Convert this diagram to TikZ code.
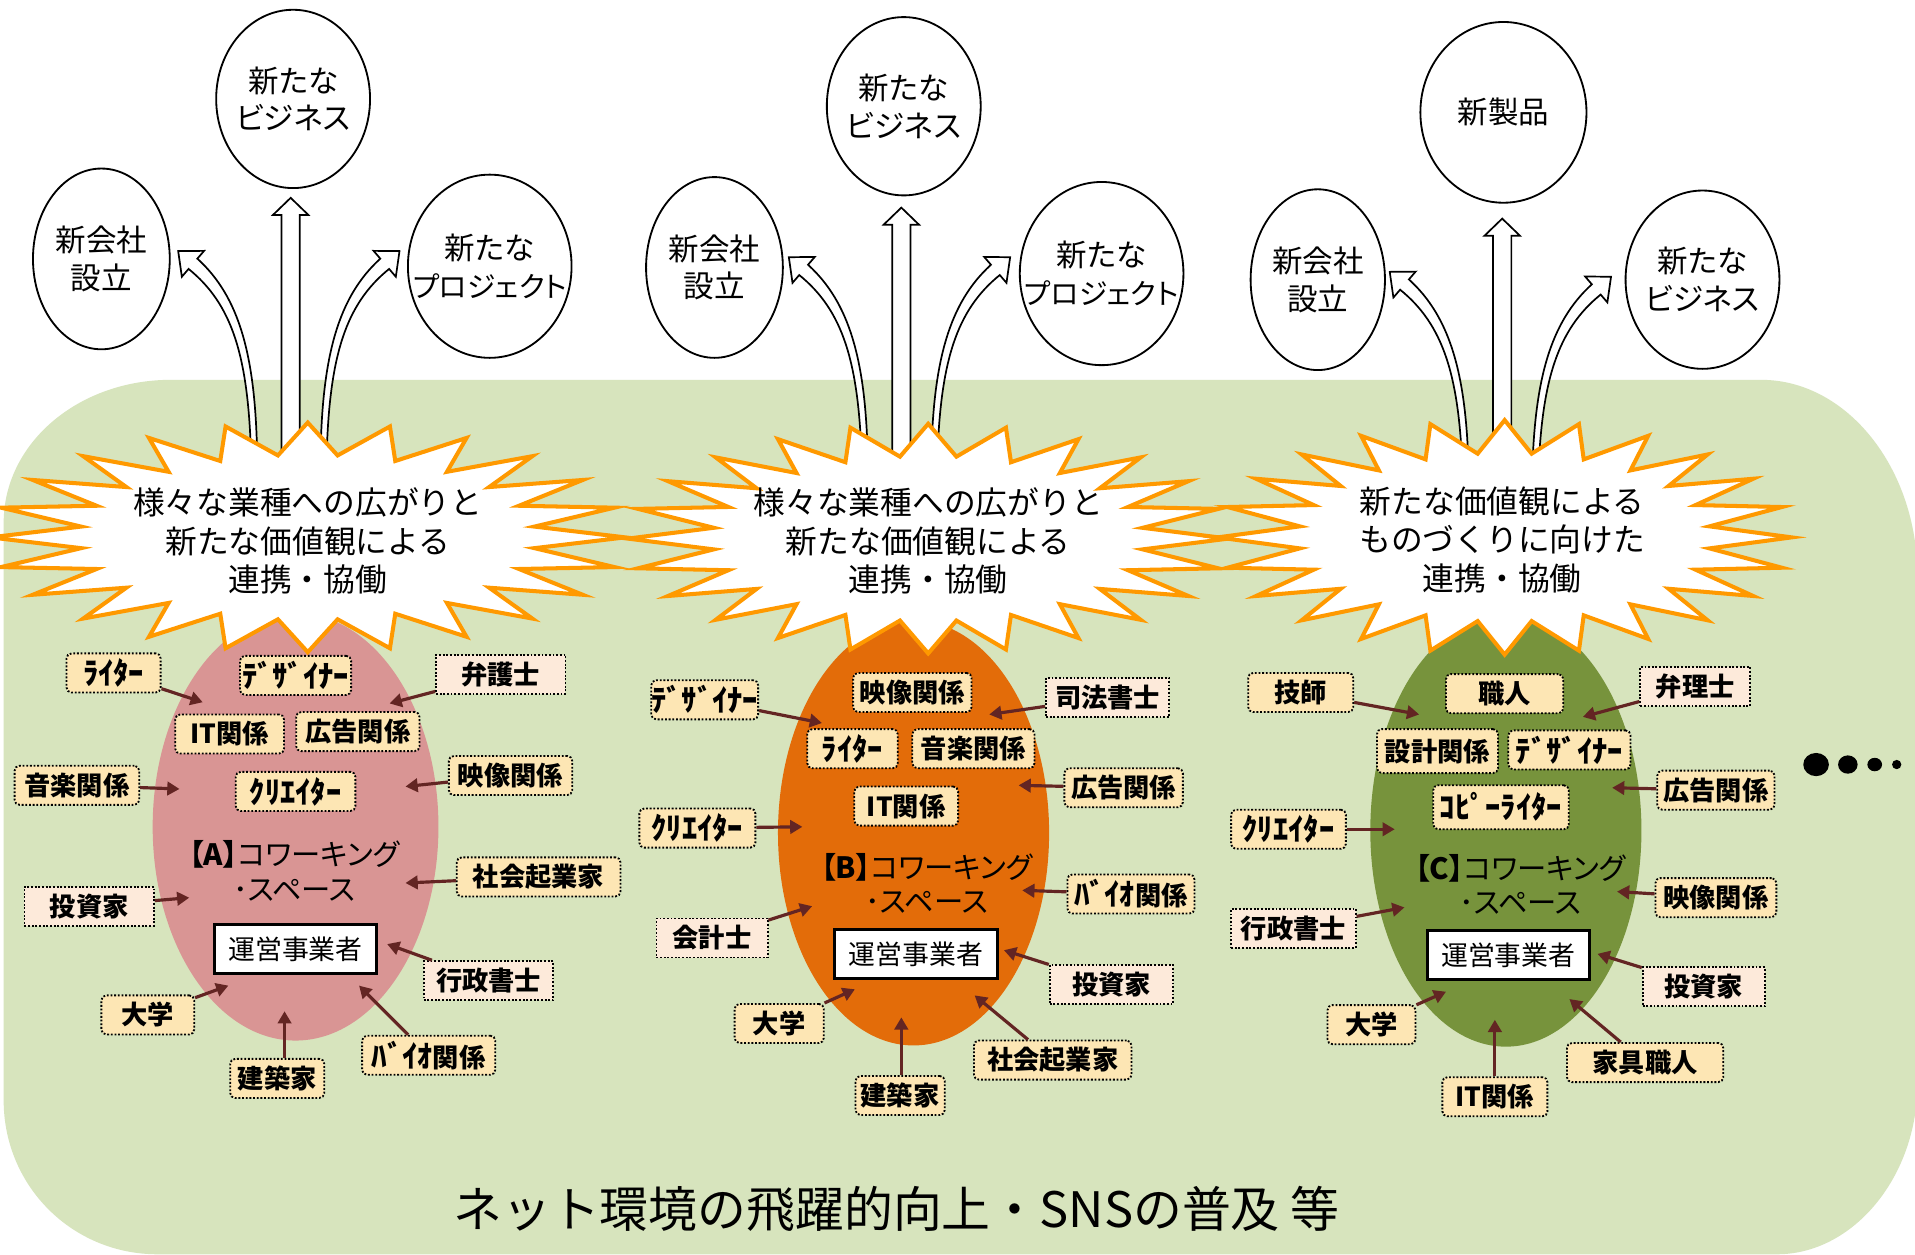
\documentclass[tikz,border=0pt]{standalone}
\usepackage{fontspec}
\usetikzlibrary{shapes.geometric,arrows.meta}
\newfontfamily\jp{Noto Sans CJK JP}
\newfontfamily\jpp[RawFeature=+palt]{Noto Sans CJK JP}
\definecolor{bggreen}{HTML}{D7E4BD}
\definecolor{pinkA}{HTML}{D99594}
\definecolor{orangeB}{HTML}{E36C09}
\definecolor{greenC}{HTML}{77933C}
\definecolor{cLabY}{HTML}{FDE6B4}
\definecolor{cLabP}{HTML}{FDEADA}
\definecolor{burstor}{HTML}{FF9900}
\definecolor{arrred}{HTML}{632523}
\newcommand\hollowup[3]{%
  \path[hollow] (#1-7.5,#3) -- (#1-7.5,#2+14) -- (#1-14.5,#2+14) -- (#1,#2) -- (#1+14.5,#2+14) -- (#1+7.5,#2+14) -- (#1+7.5,#3) -- cycle;}
\newcommand\hollowcurve[3]{%
  \begin{scope}[shift={(#1,#2)}, xscale=#3]
  \path[hollow] (2.5,40) -- (2.5,0) .. controls (1,-80) and (-12,-128) .. (-46.4,-159.2) -- (-40.9,-165.6) -- (-62.1,-165.4) -- (-59.1,-144.4) -- (-53.6,-150.8) .. controls (-18,-122) and (-5,-80) .. (-2.5,0) -- (-2.5,40) -- cycle;
  \end{scope}}
\newcommand\starburst[4]{%
  \path[burst] plot[samples at={0,1,...,47}, variable=\k] ({#1+(0.86+0.14*cos(180*\k))*#3*cos(90+7.5*\k)}, {#2-(0.86+0.14*cos(180*\k))*#4*sin(90+7.5*\k)}) -- cycle;}
\newcommand\pj{{\fontsize{23.5}{31}\selectfont プロジェクト}}
\begin{document}
\begin{tikzpicture}[x=1pt,y=-1pt,
  labbase/.style={draw=black, line width=1.5pt, dash pattern=on 1.5pt off 1.5pt, minimum height=32, inner sep=0pt, font=\jp\bfseries\fontsize{21.5}{24}\selectfont, text=black},
  laby/.style={labbase, fill=cLabY, rounded corners=4pt, minimum width=#1},
  labp/.style={labbase, fill=cLabP, minimum width=#1},
  hw/.style={font=\jp\bfseries\fontsize{25}{27}\selectfont},
  conn/.style={draw=arrred, line width=2.6pt, -{Triangle[length=10pt,width=11pt]}},
  topell/.style={draw=black, line width=1.5pt, ellipse, fill=white, inner sep=0pt},
  toptext/.style={align=center, inner sep=0pt, font=\jpp\fontsize{25}{31}\selectfont},
  burst/.style={fill=white, draw=burstor, line width=3.3pt, line join=miter},
  bursttext/.style={align=center, inner sep=0pt, font=\jp\fontsize{26}{31.5}\selectfont},
  hollow/.style={fill=white, draw=black, line width=1.4pt, line join=miter},
  opbox/.style={draw=black, line width=2.5pt, fill=white, minimum width=133, minimum height=40, inner sep=0pt, font=\jp\fontsize{22}{24}\selectfont},
  titletext/.style={align=center, inner sep=0pt, font=\jpp\fontsize{24}{28}\selectfont},
  innerell/.style={ellipse, inner sep=0pt}
]
\useasboundingbox (0,0) rectangle (1568,1027);
\fill[white] (0,0) rectangle (1568,1027);
% background
\fill[bggreen] (3,428) .. controls (3,363) and (64,311) .. (140,311) -- (1442,311) .. controls (1512,311) and (1570,383) .. (1570,472) -- (1570,887) .. controls (1570,964) and (1517,1027) .. (1455,1027) -- (129,1027) .. controls (59,1027) and (3,971) .. (3,901) -- cycle;

% inner ellipses
\node[innerell, fill=pinkA, minimum width=234, minimum height=350] (ea) at (242,677) {};
\node[innerell, fill=orangeB, minimum width=222, minimum height=348] (eb) at (748,682) {};
\node[innerell, fill=greenC, minimum width=222, minimum height=354] (ec) at (1233,680) {};

% hollow arrows
\hollowup{238}{162}{400}
\hollowcurve{208}{371}{1}
\hollowcurve{265}{371}{-1}
\hollowup{738}{170}{400}
\hollowcurve{708}{376}{1}
\hollowcurve{765}{376}{-1}
\hollowup{1230}{179}{410}
\hollowcurve{1200}{388}{1}
\hollowcurve{1257}{392}{-1}

% starbursts
\starburst{252}{440}{260}{94}
\starburst{760}{441}{246}{94}
\starburst{1232}{440}{235}{96}
\node[bursttext] (sa) at (252,443) {様々な業種への広がりと\\新たな価値観による\\連携・協働};
\node[bursttext] (sb) at (760,443) {様々な業種への広がりと\\新たな価値観による\\連携・協働};
\node[bursttext] (sc) at (1230,442) {新たな価値観による\\ものづくりに向けた\\連携・協働};

% top ellipses
\node[topell, minimum width=112, minimum height=148] (ta1) at (83,212) {};
\node[toptext] (tt1) at (ta1) {新会社\\設立};
\node[topell, minimum width=126, minimum height=146] (ta2) at (240,81) {};
\node[toptext] (tt2) at (ta2) {新たな\\ビジネス};
\node[topell, minimum width=134, minimum height=150] (ta3) at (401,218) {};
\node[toptext] (tt3) at (ta3) {新たな\\\pj};
\node[topell, minimum width=112, minimum height=148] (tb1) at (585,219) {};
\node[toptext] (ttb1) at (tb1) {新会社\\設立};
\node[topell, minimum width=126, minimum height=146] (tb2) at (740,87) {};
\node[toptext] (ttb2) at (tb2) {新たな\\ビジネス};
\node[topell, minimum width=134, minimum height=150] (tb3) at (902,224) {};
\node[toptext] (ttb3) at (tb3) {新たな\\\pj};
\node[topell, minimum width=110, minimum height=148] (tc1) at (1079,229) {};
\node[toptext] (ttc1) at (tc1) {新会社\\設立};
\node[topell, minimum width=136, minimum height=148] (tc2) at (1231,92) {};
\node[toptext] (ttc2) at (tc2) {新製品};
\node[topell, minimum width=126, minimum height=146] (tc3) at (1394,229) {};
\node[toptext] (ttc3) at (tc3) {新たな\\ビジネス};

% titles and operator boxes
\node[titletext] (tiA) at (241,713) {{\bfseries【A】}コワーキング\\･スペース};
\node[titletext] (tiB) at (759,723) {{\bfseries【B】}コワーキング\\･スペース};
\node[titletext] (tiC) at (1245,724) {{\bfseries【C】}コワーキング\\･スペース};
\node[opbox] (opA) at (242,777) {運営事業者};
\node[opbox] (opB) at (750,781) {運営事業者};
\node[opbox] (opC) at (1235,782) {運営事業者};

% group A labels
\node[laby=77, hw] (a1) at (93,551) {ﾗｲﾀｰ};
\node[laby=91, hw] (a2) at (242,553) {ﾃﾞｻﾞｲﾅｰ};
\node[labp=106] (a3) at (410,552) {弁護士};
\node[laby=89] (a4) at (188,601) {IT関係};
\node[laby=101] (a5) at (293,599) {広告関係};
\node[laby=102] (a6) at (63,643) {音楽関係};
\node[laby=98, hw] (a7) at (242,648) {ｸﾘｴｲﾀｰ};
\node[laby=101] (a8) at (418,635) {映像関係};
\node[laby=134] (a9) at (441,718) {社会起業家};
\node[labp=106] (a10) at (73,742) {投資家};
\node[labp=106] (a11) at (400,803) {行政書士};
\node[laby=76] (a12) at (121,831) {大学};
\node[laby=77] (a13) at (227,883) {建築家};
\node[laby=109] (a14) at (351,864) {{\fontsize{25}{27}\selectfont ﾊﾞｲｵ}関係};
\coordinate (xa1) at (166,575);
\coordinate (xa3) at (319,576);
\coordinate (xa6) at (147,646);
\coordinate (xa8) at (332,644);
\coordinate (xa9) at (332,723);
\coordinate (xa10) at (155,735);
\coordinate (xa11) at (317,773);
\coordinate (xa12) at (187,807);
\coordinate (xa13) at (233,828);
\coordinate (xa14) at (294,807);
\draw[conn] (a1) -- (xa1);
\draw[conn] (a3) -- (xa3);
\draw[conn] (a6) -- (xa6);
\draw[conn] (a8) -- (xa8);
\draw[conn] (a9) -- (xa9);
\draw[conn] (a10) -- (xa10);
\draw[conn] (a11) -- (xa11);
\draw[conn] (a12) -- (xa12);
\draw[conn] (a13.north -| xa13) -- (xa13);
\draw[conn] (a14) -- (xa14);

% group B labels
\node[laby=97] (b1) at (747,567) {映像関係};
\node[laby=86, hw] (b2) at (577,573) {ﾃﾞｻﾞｲﾅｰ};
\node[labp=101] (b3) at (907,571) {司法書士};
\node[laby=74, hw] (b4) at (698,613) {ﾗｲﾀｰ};
\node[laby=100] (b5) at (797,613) {音楽関係};
\node[laby=97] (b6) at (920,645) {広告関係};
\node[laby=85] (b7) at (742,660) {IT関係};
\node[laby=95, hw] (b8) at (571,678) {ｸﾘｴｲﾀｰ};
\node[laby=104] (b9) at (926,732) {{\fontsize{25}{27}\selectfont ﾊﾞｲｵ}関係};
\node[labp=91] (b10) at (583,768) {会計士};
\node[labp=101] (b11) at (910,806) {投資家};
\node[laby=73] (b12) at (638,838) {大学};
\node[laby=129] (b13) at (862,868) {社会起業家};
\node[laby=73] (b14) at (737,897) {建築家};
\coordinate (xb2) at (673,592);
\coordinate (xb3) at (810,585);
\coordinate (xb6) at (834,643);
\coordinate (xb8) at (657,677);
\coordinate (xb9) at (837,729);
\coordinate (xb10) at (665,742);
\coordinate (xb11) at (822,778);
\coordinate (xb12) at (700,810);
\coordinate (xb13) at (798,815);
\coordinate (xb14) at (738,833);
\draw[conn] (b2) -- (xb2);
\draw[conn] (b3) -- (xb3);
\draw[conn] (b6) -- (xb6);
\draw[conn] (b8) -- (xb8);
\draw[conn] (b9) -- (xb9);
\draw[conn] (b10) -- (xb10);
\draw[conn] (b11) -- (xb11);
\draw[conn] (b12) -- (xb12);
\draw[conn] (b13) -- (xb13);
\draw[conn] (b14.north -| xb14) -- (xb14);

% group C labels
\node[laby=86] (c1) at (1065,567) {技師};
\node[laby=96] (c2) at (1232,568) {職人};
\node[labp=90] (c3) at (1388,562) {弁理士};
\node[laby=99, minimum height=36] (c4) at (1177,615) {設計関係};
\node[laby=100, hw] (c5) at (1285,614) {ﾃﾞｻﾞｲﾅｰ};
\node[laby=96] (c6) at (1405,647) {広告関係};
\node[laby=111, minimum height=36, hw] (c7) at (1229,661) {ｺﾋﾟｰﾗｲﾀｰ};
\node[laby=94, hw] (c8) at (1055,679) {ｸﾘｴｲﾀｰ};
\node[laby=99] (c9) at (1405,735) {映像関係};
\node[labp=102] (c10) at (1059,760) {行政書士};
\node[labp=100] (c11) at (1395,808) {投資家};
\node[laby=72] (c12) at (1123,839) {大学};
\node[laby=128] (c13) at (1347,870) {家具職人};
\node[laby=86] (c14) at (1224,898) {IT関係};
\coordinate (xc1) at (1162,585);
\coordinate (xc3) at (1296,587);
\coordinate (xc6) at (1320,645);
\coordinate (xc8) at (1142,679);
\coordinate (xc9) at (1324,730);
\coordinate (xc10) at (1150,743);
\coordinate (xc11) at (1308,781);
\coordinate (xc12) at (1184,812);
\coordinate (xc13) at (1285,818);
\coordinate (xc14) at (1224,835);
\draw[conn] (c1) -- (xc1);
\draw[conn] (c3) -- (xc3);
\draw[conn] (c6) -- (xc6);
\draw[conn] (c8) -- (xc8);
\draw[conn] (c9) -- (xc9);
\draw[conn] (c10) -- (xc10);
\draw[conn] (c11) -- (xc11);
\draw[conn] (c12) -- (xc12);
\draw[conn] (c13) -- (xc13);
\draw[conn] (c14.north -| xc14) -- (xc14);

% dots
\fill[black] (1487,626) ellipse [x radius=10.5, y radius=9.5];
\fill[black] (1513,626) ellipse [x radius=8, y radius=7.5];
\fill[black] (1535,626) ellipse [x radius=6, y radius=5.5];
\fill[black] (1553,626) circle [radius=3.8];

% bottom text
\node[font=\jp\fontsize{40}{44}\selectfont, inner sep=0pt] (net) at (734,990) {ネット環境の飛躍的向上・SNSの普及 等};
\end{tikzpicture}
\end{document}
